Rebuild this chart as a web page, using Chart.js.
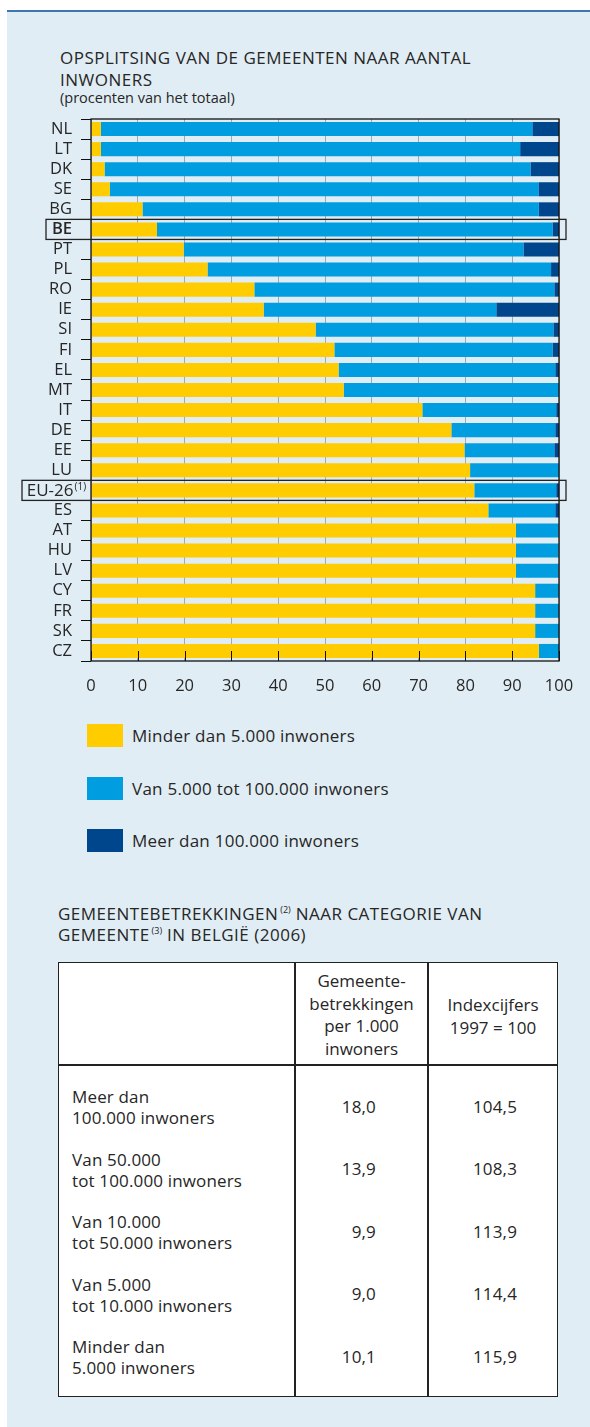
<!DOCTYPE html>
<html>
<head>
<meta charset="utf-8">
<script src="https://cdn.jsdelivr.net/npm/chart.js@4.4.0/dist/chart.umd.min.js"></script>
<style>
body { margin:0; width:590px; height:1427px; background:#fff; font-family:'Open Sans', sans-serif; color:#262626; position:relative; overflow:hidden; }
#panel { position:absolute; left:7px; top:10px; width:583px; height:1417px; background:#e1edf4; border-top:2px solid #3f76b0; box-sizing:border-box; }
.abs { position:absolute; white-space:nowrap; }
#title1 { left:60px; top:47px; font-size:17px; line-height:21.7px; letter-spacing:0.5px; }
#sub1 { left:60px; top:89px; font-size:14.5px; line-height:17px; }
#chartWrap { position:absolute; left:0; top:100px; width:590px; height:600px; }
.sw { position:absolute; left:87px; width:36px; height:23px; }
.lg { position:absolute; left:132px; font-size:17px; line-height:23px; letter-spacing:0.25px; }
#title2 { left:58px; top:902.5px; font-size:17px; line-height:21.7px; letter-spacing:0.5px; }
sup { font-size:9px; line-height:0; vertical-align:7px; margin-left:2px; letter-spacing:0; }
#tbl { position:absolute; left:58px; top:962px; width:500px; height:435px; border:1.5px solid #222; box-sizing:border-box; background:#fff; }
.vl { position:absolute; top:0; bottom:0; width:1.5px; background:#222; }
.hl { position:absolute; left:0; right:0; height:1.5px; background:#222; top:101px; }
.hd { position:absolute; text-align:center; font-size:17px; line-height:22.7px; }
.cell { position:absolute; font-size:17px; line-height:21px; letter-spacing:0.15px; }
</style>
</head>
<body>
<div id="panel"></div>
<div id="title1" class="abs">OPSPLITSING VAN DE GEMEENTEN NAAR AANTAL<br>INWONERS</div>
<div id="sub1" class="abs">(procenten van het totaal)</div>
<div id="chartWrap"><canvas id="grafico" width="590" height="600"></canvas></div>
<div id="legenda"></div>
<div id="title2" class="abs">GEMEENTEBETREKKINGEN<sup>(2)</sup> NAAR CATEGORIE VAN<br>GEMEENTE<sup>(3)</sup> IN BELGIË (2006)</div>
<div id="tbl"></div>
<script>
const categories = ['NL','LT','DK','SE','BG','BE','PT','PL','RO','IE','SI','FI','EL','MT','IT','DE','EE','LU','EU-26','ES','AT','HU','LV','CY','FR','SK','CZ'];
const minder5000 = [2.1, 2.1, 2.9, 4.0, 11.0, 14.1, 19.8, 24.9, 34.9, 36.9, 48.0, 52.0, 52.9, 54.0, 70.8, 77.0, 79.8, 81.0, 81.9, 84.9, 90.8, 90.8, 90.8, 94.9, 94.9, 94.9, 95.7];
const van5000tot100000 = [92.2, 89.6, 91.0, 91.6, 84.7, 84.5, 72.6, 73.4, 64.1, 49.7, 50.8, 46.6, 46.3, 46.0, 28.6, 22.2, 19.2, 19.0, 17.5, 14.3, 9.1, 9.1, 9.1, 5.1, 5.1, 5.1, 4.3];
const meer100000 = [5.7, 8.3, 6.1, 4.4, 4.3, 1.4, 7.6, 1.7, 1.0, 13.4, 1.2, 1.4, 0.8, 0.0, 0.6, 0.8, 1.0, 0.0, 0.6, 0.8, 0.1, 0.1, 0.1, 0.0, 0.0, 0.0, 0.0];
const seriesLabels = ['Minder dan 5.000 inwoners', 'Van 5.000 tot 100.000 inwoners', 'Meer dan 100.000 inwoners'];
const seriesColors = ['#ffcc00', '#009ee0', '#00468c'];
const xTicks = [0, 10, 20, 30, 40, 50, 60, 70, 80, 90, 100];
const highlighted = ['BE', 'EU-26'];

const tableHeaders = ['Gemeente-<br>betrekkingen<br>per 1.000<br>inwoners', 'Indexcijfers<br>1997 = 100'];
const tableRows = ['Meer dan<br>100.000 inwoners', 'Van 50.000<br>tot 100.000 inwoners', 'Van 10.000<br>tot 50.000 inwoners', 'Van 5.000<br>tot 10.000 inwoners', 'Minder dan<br>5.000 inwoners'];
const betrekkingen = ['18,0', '13,9', '9,9', '9,0', '10,1'];
const indexcijfers = ['104,5', '108,3', '113,9', '114,4', '115,9'];

const FONT = "'Open Sans', sans-serif";

// legenda
const legenda = document.getElementById('legenda');
seriesLabels.forEach((lab, i) => {
  const top = 724 + i * 52.5;
  legenda.insertAdjacentHTML('beforeend',
    `<div class="sw" style="top:${top}px;background:${seriesColors[i]}"></div>` +
    `<div class="lg abs" style="top:${top}px">${lab}</div>`);
});

// tabel
const tbl = document.getElementById('tbl');
tbl.insertAdjacentHTML('beforeend', '<div class="vl" style="left:235px"></div><div class="vl" style="left:368px"></div><div class="hl"></div>');
tbl.insertAdjacentHTML('beforeend', `<div class="hd" style="left:236px;width:133px;top:7px">${tableHeaders[0]}</div>`);
tbl.insertAdjacentHTML('beforeend', `<div class="hd" style="left:369px;width:130px;top:31px">${tableHeaders[1]}</div>`);
tableRows.forEach((r, i) => {
  const cy = 143 + i * 62.5;
  tbl.insertAdjacentHTML('beforeend',
    `<div class="cell abs" style="left:13px;top:${cy - 20}px">${r}</div>` +
    `<div class="cell abs" style="right:181px;top:${cy - 10.5}px;text-align:right">${betrekkingen[i]}</div>` +
    `<div class="cell abs" style="right:40px;top:${cy - 10.5}px;text-align:right">${indexcijfers[i]}</div>`);
});

const kader = {
  id: 'kader',
  afterDatasetsDraw(chart) {
    const { ctx, chartArea: a, scales: { x, y } } = chart;
    ctx.save();
    ctx.strokeStyle = '#111';
    ctx.lineWidth = 1.3;
    ctx.strokeRect(a.left, a.top, a.right - a.left, a.bottom - a.top);
    // tick marks inside bottom axis
    ctx.lineWidth = 1;
    xTicks.forEach(v => {
      const px = Math.round(x.getPixelForValue(v)) + 0.5;
      ctx.beginPath();
      ctx.moveTo(px, a.bottom);
      ctx.lineTo(px, a.bottom - 10);
      ctx.stroke();
    });
    // highlighted rows
    const half = (y.getPixelForValue(1) - y.getPixelForValue(0)) / 2;
    ctx.lineWidth = 1.3;
    ctx.strokeStyle = '#222';
    highlighted.forEach(l => {
      const i = categories.indexOf(l);
      const cy = y.getPixelForValue(i);
      const left = l === 'BE' ? 46 : 22;
      ctx.strokeRect(left, cy - half, 566 - left, half * 2);
    });
    // EU-26 label with footnote
    const ie = categories.indexOf('EU-26');
    const cy = y.getPixelForValue(ie);
    ctx.fillStyle = '#262626';
    ctx.textBaseline = 'middle';
    ctx.textAlign = 'right';
    ctx.font = `17px ${FONT}`;
    ctx.fillText('EU-26', 73.5, cy + 1);
    ctx.textAlign = 'left';
    ctx.font = `10px ${FONT}`;
    ctx.fillText('(1)', 74.5, cy - 3);
    ctx.restore();
  }
};

new Chart(document.getElementById('grafico').getContext('2d'), {
  type: 'bar',
  data: {
    labels: categories,
    datasets: [minder5000, van5000tot100000, meer100000].map((d, i) => ({
      label: seriesLabels[i],
      data: d,
      backgroundColor: seriesColors[i],
      borderWidth: 0,
      barPercentage: 0.7,
      categoryPercentage: 1
    }))
  },
  options: {
    indexAxis: 'y',
    responsive: false,
    animation: false,
    layout: { padding: { top: 19, right: 31, left: 0, bottom: 0 } },
    plugins: { legend: { display: false }, tooltip: { enabled: false } },
    scales: {
      x: {
        stacked: true,
        min: 0,
        max: 100,
        afterBuildTicks: s => { s.ticks = xTicks.map(v => ({ value: v })); },
        afterFit: s => { s.height = 39; },
        grid: { color: '#a8a8a8', lineWidth: 1, drawTicks: false },
        border: { display: false },
        ticks: { color: '#262626', padding: 15, font: { family: FONT, size: 16.5 } }
      },
      y: {
        stacked: true,
        afterFit: s => { s.width = 91; },
        grid: { offset: true, drawOnChartArea: false, drawTicks: true, tickLength: 10, color: '#111' },
        border: { display: false },
        ticks: {
          color: '#262626',
          padding: 9,
          autoSkip: false,
          callback: (v, i) => categories[i] === 'EU-26' ? '' : categories[i],
          font: c => ({ family: FONT, size: 16.5, weight: categories[c.index] === 'BE' ? '600' : 'normal' })
        }
      }
    }
  },
  plugins: [kader]
});
</script>
</body>
</html>
